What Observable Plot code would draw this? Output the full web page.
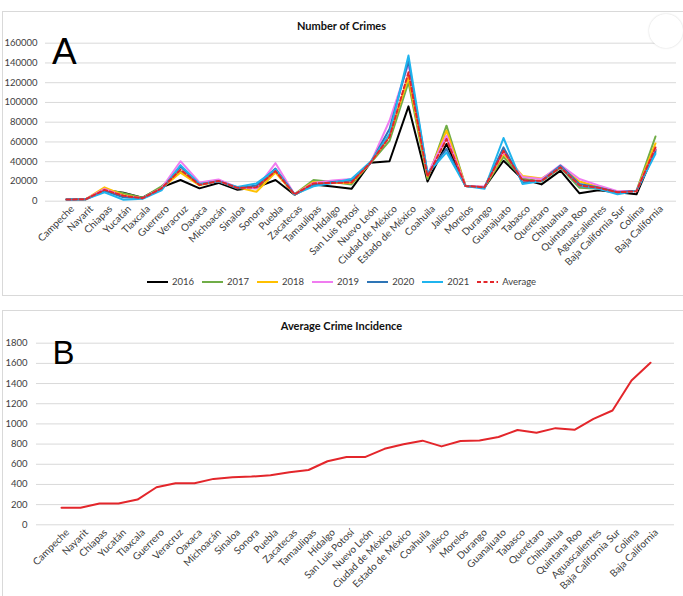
<!DOCTYPE html>
<html>
<head>
<meta charset="utf-8">
<script src="https://cdn.jsdelivr.net/npm/d3@7"></script>
<script src="https://cdn.jsdelivr.net/npm/@observablehq/plot@0.6"></script>
<style>
  body { margin: 0; background: #fff; }
  #wrap { position: relative; width: 683px; height: 596px; overflow: hidden; background: #fff; font-family: Lato, "Liberation Sans", sans-serif; color: #404040; }
  .box { position: absolute; border: 1px solid #d9d9d9; box-sizing: border-box; }
  .title { position: absolute; left: 0; width: 683px; text-align: center; font-weight: bold; font-size: 11px; line-height: 13px; color: #111; }
  .letter { position: absolute; font-family: "Liberation Sans", Arial, sans-serif; line-height: 1; color: #000; }
  .chart { position: absolute; left: 0; }
  #legendA { position: absolute; top: 276px; left: 0; width: 683px; display: flex; justify-content: center; gap: 8px; font-size: 9.5px; line-height: 12px; }
  #legendA .item { display: flex; align-items: center; gap: 4px; }
  #bubble { position: absolute; left: 649px; top: 14px; width: 34px; height: 34px; border-radius: 50%; background: #fff; box-shadow: 0 0 2px rgba(0,0,0,0.18); }
</style>
</head>
<body>
<div id="wrap">
  <div class="box" style="left:2px;top:11px;width:682px;height:285px;"></div>
  <div class="box" style="left:2px;top:310px;width:682px;height:300px;"></div>
  <div class="title" style="top:18.5px;">Number of Crimes</div>
  <div class="title" style="top:318.5px;">Average Crime Incidence</div>
  <div id="chartA" class="chart" style="top:0px;"></div>
  <div id="chartB" class="chart" style="top:300px;"></div>
  <div id="legendA"></div>
  <div class="letter" style="left:52px;top:33px;font-size:37px;">A</div>
  <div class="letter" style="left:52.5px;top:335.5px;font-size:33px;">B</div>
  <div id="bubble"></div>
</div>
<script>
const states = ["Campeche","Nayarit","Chiapas","Yucatán","Tlaxcala","Guerrero","Veracruz","Oaxaca","Michoacán","Sinaloa","Sonora","Puebla","Zacatecas","Tamaulipas","Hidalgo","San Luis Potosí","Nuevo León","Ciudad de México","Estado de México","Coahuila","Jalisco","Morelos","Durango","Guanajuato","Tabasco","Querétaro","Chihuahua","Quintana Roo","Aguascalientes","Baja California Sur","Colima","Baja California"];

const y2016 = [1800,1900,11000,8500,3500,14000,21500,13000,18500,11500,14000,21500,6500,17000,15000,12500,39000,40500,96000,20000,58000,15500,14000,41000,22500,17000,31000,8000,11000,9000,7000,52000];
const y2017 = [1800,1900,12000,8000,3500,15000,30000,17000,20500,13000,13000,30500,7000,21500,19500,17000,38500,61000,120500,22500,76500,15500,14000,45000,23000,20000,34000,13500,12500,9000,10500,65500];
const y2018 = [1800,1900,14000,6000,3000,13000,29000,16000,20500,14000,9500,29000,7000,19500,18500,18500,38500,66000,125500,25000,71500,15500,14500,48000,25500,23000,35000,20000,14500,9500,10500,58500];
const y2019 = [1800,1900,12500,5000,3000,13000,40500,19000,22000,14000,13000,38500,7000,18500,21000,22500,38500,81500,139000,27000,66500,15500,15000,50000,24500,22500,36500,22500,16000,10000,10500,53000];
const y2020 = [1800,1900,10500,4000,3000,12000,35000,17000,20500,13000,16000,33000,7000,16500,19500,21000,38500,73000,142000,28000,53000,15500,14000,54500,19000,20500,36000,17500,14000,9000,10500,50000];
const y2021 = [1800,1900,9000,1500,2500,11000,36500,17500,20000,14500,18000,32000,7000,15000,18500,22500,40000,68000,147500,28000,49500,15500,12500,64000,17500,20500,35000,15500,12500,7000,10500,48000];
const yAverage = [1800,1900,11500,5500,3000,13000,32000,16500,20500,13500,14000,30500,7000,18000,18500,19000,39000,65000,130500,25000,63000,15500,14000,51000,21000,20500,34500,16000,13500,9000,10000,54500];

const incidence = [170,170,212,212,250,372,411,411,455,472,478,492,520,543,630,672,673,753,798,834,777,830,836,870,940,912,958,942,1050,1133,1430,1606];

const seriesNames = ["2016","2017","2018","2019","2020","2021","Average"];
const seriesValues = [y2016, y2017, y2018, y2019, y2020, y2021, yAverage];
const seriesColors = ["#000000","#70AD47","#FFC000","#F07CF0","#2E75B6","#1FB4EE","#E3262B"];

const FONT = 'Lato, "Liberation Sans", sans-serif';

const linesA = seriesValues.map((vals, k) =>
  Plot.lineY(vals, {
    x: states, y: vals,
    stroke: seriesColors[k],
    strokeWidth: 2,
    strokeDasharray: seriesNames[k] === "Average" ? "4,2.5" : null
  })
);

const chartA = Plot.plot({
  width: 683, height: 300,
  marginTop: 42.7, marginBottom: 99.3, marginLeft: 45, marginRight: 7,
  style: { fontFamily: FONT, fontSize: "9.5px", color: "#404040", background: "transparent", overflow: "visible" },
  x: { type: "point", domain: states, padding: 0.5, label: null, tickSize: 0, tickRotate: -45, tickPadding: 5 },
  y: { domain: [0, 160000], ticks: 8, label: null, tickSize: 0, tickPadding: 8, tickFormat: d3.format("d") },
  marks: [
    Plot.ruleY(d3.range(0, 160001, 20000), { stroke: "#d9d9d9", strokeWidth: 1 }),
    ...linesA
  ]
});
document.getElementById("chartA").appendChild(chartA);

const chartB = Plot.plot({
  width: 683, height: 296,
  marginTop: 42.7, marginBottom: 71.7, marginLeft: 36, marginRight: 9,
  style: { fontFamily: FONT, fontSize: "9.5px", color: "#404040", background: "transparent", overflow: "visible" },
  x: { type: "point", domain: states, padding: 0.5, label: null, tickSize: 0, tickRotate: -45, tickPadding: 5 },
  y: { domain: [0, 1800], ticks: 9, label: null, tickSize: 0, tickPadding: 9, tickFormat: d3.format("d") },
  marks: [
    Plot.ruleY(d3.range(0, 1801, 200), { stroke: "#d9d9d9", strokeWidth: 1 }),
    Plot.lineY(incidence, { x: states, y: incidence, stroke: "#E3262B", strokeWidth: 2 })
  ]
});
document.getElementById("chartB").appendChild(chartB);

// nudge rotated category labels to the right and enlarge slightly, as in the spreadsheet layout
[chartA, chartB].forEach(svg => {
  svg.querySelectorAll('g[aria-label="x-axis tick label"], g[aria-label="x-axis"]').forEach(g => {
    const t = g.getAttribute("transform") || "";
    g.setAttribute("transform", "translate(6,1) " + t);
    g.setAttribute("font-size", "10px");
  });
});

const legend = document.getElementById("legendA");
seriesNames.forEach((name, k) => {
  const item = document.createElement("div");
  item.className = "item";
  const dash = name === "Average" ? 'stroke-dasharray="4,2.5"' : "";
  item.innerHTML = `<svg width="21" height="6"><line x1="0" y1="3" x2="21" y2="3" stroke="${seriesColors[k]}" stroke-width="2" ${dash}/></svg><span>${name}</span>`;
  legend.appendChild(item);
});
</script>
</body>
</html>
